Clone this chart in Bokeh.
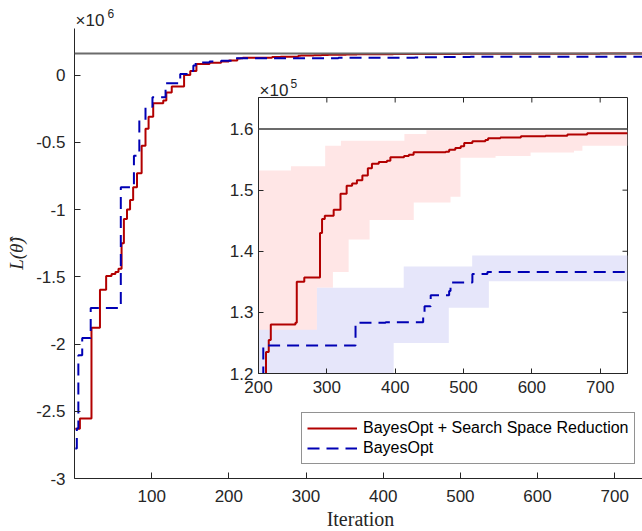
import numpy as np
from bokeh.plotting import figure
from bokeh.models import Range1d, FixedTicker, Span, Label, Legend, LegendItem
from bokeh.embed import file_html
from bokeh.resources import INLINE

# ---------------- data ----------------
# BayesOpt + Search Space Reduction: best objective so far (units of 1e6)
ssr_iter = [1, 7, 22, 33, 41, 48, 53, 57, 61, 64,
            68, 72, 76, 81, 87, 92, 96, 102, 115, 119,
            126, 142, 150, 158, 175, 190, 200, 211, 215, 218,
            254, 256, 267, 290, 293, 297, 310, 320, 329, 337,
            344, 352, 360, 366, 376, 388, 393, 413, 420, 427,
            474, 479, 488, 496, 501, 513, 532, 536, 554, 584,
            620, 652, 681, 740]
ssr_value_e6 = [-2.63, -2.554, -1.88, -1.596, -1.495, -1.48, -1.465, -1.44, -1.25, -1.07,
                -1.0, -0.93, -0.834, -0.73, -0.525, -0.40, -0.31, -0.21, -0.19, -0.13,
                -0.085, 0.0, 0.03, 0.082, 0.092, 0.100, 0.108, 0.1235, 0.1255, 0.1280,
                0.1283, 0.1350, 0.1357, 0.1430, 0.1453, 0.1458, 0.1468, 0.1494, 0.1507, 0.1511,
                0.1516, 0.1524, 0.1536, 0.1543, 0.1546, 0.1548, 0.1554, 0.1556, 0.1558, 0.1562,
                0.1563, 0.1566, 0.1569, 0.1572, 0.1577, 0.1580, 0.1582, 0.1585, 0.1586, 0.1588,
                0.1589, 0.1591, 0.1593, 0.1594]

# BayesOpt (units of 1e6)
bo_iter = [1, 3, 5, 10, 21, 60, 77, 84, 92, 101,
           118, 137, 146, 154, 157, 175, 190, 207, 342, 386,
           441, 443, 452, 479, 481, 513, 535, 740]
bo_value_e6 = [-2.777, -2.628, -2.084, -1.955, -1.733, -0.834, -0.60, -0.334, -0.235, -0.166,
               -0.062, 0.007, 0.03, 0.07, 0.094, 0.100, 0.106, 0.1246, 0.1283, 0.1284,
               0.1300, 0.1310, 0.1328, 0.1335, 0.1349, 0.1363, 0.1366, 0.1366]

# spread bands shown in the inset (units of 1e5); each value holds from its iteration onward
ssr_upper_iter = [200, 247.5, 297.6, 320.6, 413.5, 445.7]
ssr_upper_e5 = [1.532, 1.539, 1.5727, 1.581, 1.592, 1.598]
ssr_lower_iter = [200, 285.5, 308.9, 331.9, 362.6, 427.2, 481, 495.6, 546.9, 598.2, 661.7, 674]
ssr_lower_e5 = [1.10, 1.3403, 1.366, 1.4192, 1.4513, 1.480, 1.4894, 1.553, 1.556, 1.5618, 1.5645, 1.5727]
bo_upper_iter = [200, 285.5, 412.5, 512.7]
bo_upper_e5 = [1.2717, 1.3403, 1.3751, 1.393]
bo_lower_iter = [200, 397.8, 478.5, 537.1]
bo_lower_e5 = [1.10, 1.25, 1.3076, 1.351]
band_end_iter = 740

reference_e6 = 0.16          # horizontal reference level

main_xticks = [100, 200, 300, 400, 500, 600, 700]
main_yticks = [-3, -2.5, -2, -1.5, -1, -0.5, 0]
main_ytick_labels = ["-3", "-2.5", "-2", "-1.5", "-1", "-0.5", "0"]
inset_xticks = [200, 300, 400, 500, 600, 700]
inset_yticks = [1.2, 1.3, 1.4, 1.5, 1.6]
inset_ytick_labels = ["1.2", "1.3", "1.4", "1.5", "1.6"]

series_names = ["BayesOpt + Search Space Reduction", "BayesOpt"]
x_label = "Iteration"
y_label = "L(\u03b8\u0302)"
main_exponent = "6"
inset_exponent = "5"

# ---------------- styling ----------------
RED = "#b20000"
BLUE = "#0000b4"
PINK = "#ffe6e6"
LAVENDER = "#e6e6fa"
GREY = "#6b6b6b"
AX = "#262626"
SANS = "Liberation Sans"
SERIF = "Liberation Serif"
TICK_FS = "17px"
W, H = 642, 531


def step_at(bx, bv, x):
    idx = np.searchsorted(np.asarray(bx, dtype=float), x, side="right") - 1
    return np.asarray(bv, dtype=float)[idx]


def band_xy(up_x, up_v, lo_x, lo_v, end):
    b = np.unique(np.concatenate([up_x, lo_x, [end]]).astype(float))
    starts, ends = b[:-1], b[1:]
    hi = step_at(up_x, up_v, starts)
    lo = step_at(lo_x, lo_v, starts)
    xs = np.column_stack([starts, ends]).ravel()
    return xs, np.repeat(lo, 2), np.repeat(hi, 2)


def style_axis(ax, fs=TICK_FS, tick_in=6, standoff=8):
    ax.axis_line_color = AX
    ax.axis_line_width = 1
    ax.major_tick_line_color = AX
    ax.major_tick_in = tick_in
    ax.major_tick_out = 0
    ax.minor_tick_line_color = None
    ax.major_label_text_font = SANS
    ax.major_label_text_font_size = fs
    ax.major_label_text_color = AX
    ax.major_label_standoff = standoff


# ---------------- main figure ----------------
p = figure(width=W, height=H,
           x_range=Range1d(0, 736), y_range=Range1d(-3.0, 0.346),
           min_border_left=74, min_border_right=0, min_border_top=28, min_border_bottom=53,
           output_backend="svg", toolbar_location=None,
           outline_line_color=None, background_fill_color="white", border_fill_color="white")
p.grid.visible = False
p.xaxis.ticker = FixedTicker(ticks=main_xticks)
p.yaxis.ticker = FixedTicker(ticks=main_yticks)
p.yaxis.major_label_overrides = {float(t): s for t, s in zip(main_yticks, main_ytick_labels)}
style_axis(p.xaxis[0], standoff=11)
style_axis(p.yaxis[0], standoff=9)
p.yaxis.axis_label = y_label
p.yaxis.axis_label_text_font = SERIF
p.yaxis.axis_label_text_font_style = "italic"
p.yaxis.axis_label_text_font_size = "19px"
p.yaxis.axis_label_text_color = AX
p.yaxis.axis_label_standoff = 6

p.add_layout(Span(location=reference_e6, dimension="width", line_color=GREY, line_width=2))
r_ssr = p.step(x=ssr_iter, y=ssr_value_e6, mode="after", line_color=RED, line_width=2)
r_bo = p.step(x=bo_iter, y=bo_value_e6, mode="after", line_color=BLUE, line_width=2,
              line_dash="12 7")

legend = Legend(items=[LegendItem(label=series_names[0], renderers=[r_ssr]),
                       LegendItem(label=series_names[1], renderers=[r_bo])],
                location=(227, 14), orientation="vertical",
                border_line_color=AX, border_line_width=1, background_fill_color="white",
                background_fill_alpha=1, padding=5, spacing=0, margin=0,
                label_height=20, glyph_height=20, glyph_width=50, label_standoff=6,
                label_text_font=SANS, label_text_font_size="16px", label_text_color="black")
p.add_layout(legend)

# ---------------- inset figure (same canvas size, overlaid as a second root) ----------------
IL, IR, IT, IB = 258, 15, 97, 158
ins = figure(width=W, height=H,
             x_range=Range1d(200, 740), y_range=Range1d(1.2, 1.6516),
             min_border_left=IL, min_border_right=IR, min_border_top=IT, min_border_bottom=IB,
             output_backend="svg", toolbar_location=None,
             outline_line_color=AX, outline_line_width=1,
             background_fill_color="white", border_fill_color=None)
ins.grid.visible = False
ins.xaxis.ticker = FixedTicker(ticks=inset_xticks)
ins.yaxis.ticker = FixedTicker(ticks=inset_yticks)
ins.yaxis.major_label_overrides = {float(t): s for t, s in zip(inset_yticks, inset_ytick_labels)}
style_axis(ins.xaxis[0], tick_in=5, standoff=7)
style_axis(ins.yaxis[0], tick_in=5, standoff=5)

xs, lo, hi = band_xy(ssr_upper_iter, ssr_upper_e5, ssr_lower_iter, ssr_lower_e5, band_end_iter)
ins.varea(x=xs, y1=lo, y2=hi, fill_color=PINK)
xs, lo, hi = band_xy(bo_upper_iter, bo_upper_e5, bo_lower_iter, bo_lower_e5, band_end_iter)
ins.varea(x=xs, y1=lo, y2=hi, fill_color=LAVENDER)

ins.add_layout(Span(location=reference_e6 * 10, dimension="width", line_color=GREY, line_width=2))
ins.step(x=ssr_iter, y=[v * 10 for v in ssr_value_e6], mode="after", line_color=RED, line_width=2)
ins.step(x=bo_iter, y=[v * 10 for v in bo_value_e6], mode="after", line_color=BLUE, line_width=2,
         line_dash="12 7")

# mirrored tick marks on the top and right edges of the inset box
fw, fh = W - IL - IR, H - IT - IB
xr, yr = ins.x_range, ins.y_range
tick_dy = (yr.end - yr.start) / fh * 5
tick_dx = (xr.end - xr.start) / fw * 5
ins.segment(x0=inset_xticks, y0=[yr.end] * len(inset_xticks),
            x1=inset_xticks, y1=[yr.end - tick_dy] * len(inset_xticks), line_color=AX, line_width=1)
ins.segment(x0=[xr.end] * len(inset_yticks), y0=inset_yticks,
            x1=[xr.end - tick_dx] * len(inset_yticks), y1=inset_yticks, line_color=AX, line_width=1)
ins.styles = {"position": "absolute", "left": "0px", "top": "0px"}

# ---------------- transparent text layer (1 unit = 1 pixel, origin bottom-left) ----------------
txt = figure(width=W, height=H, x_range=Range1d(0, W), y_range=Range1d(0, H),
             min_border=0, x_axis_type=None, y_axis_type=None,
             output_backend="svg", toolbar_location=None, outline_line_color=None,
             background_fill_color=None, border_fill_color=None)
txt.grid.visible = False


def put(x, y_top, text, size, font=SANS, align="left", style="normal"):
    txt.add_layout(Label(x=x, y=H - y_top, text=text, text_font=font, text_font_size=size,
                         text_font_style=style, text_color=AX, text_align=align,
                         text_baseline="alphabetic"))


put(75, 20, "\u00d710", TICK_FS)
put(107, 13, main_exponent, "12px")
put(259, 90, "\u00d710", TICK_FS)
put(290, 83, inset_exponent, "12px")
put(360, 518, x_label, "20px", font=SERIF, align="center")
txt.styles = {"position": "absolute", "left": "0px", "top": "0px"}

open("out.html", "w").write(file_html([p, ins, txt], INLINE))
